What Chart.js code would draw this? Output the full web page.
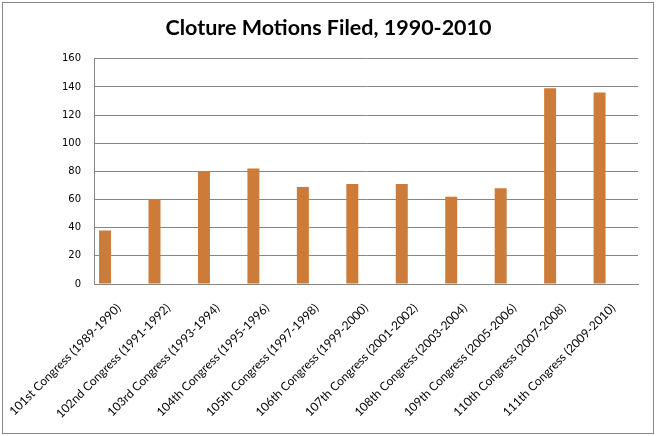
<!DOCTYPE html>
<html>
<head>
<meta charset="utf-8">
<script src="https://cdn.jsdelivr.net/npm/chart.js@4"></script>
<style>
  html, body { margin: 0; padding: 0; background: #fff; }
  #wrap { position: relative; width: 657px; height: 436px; }
</style>
</head>
<body>
<div id="wrap"><canvas id="chart" width="657" height="436"></canvas></div>
<script>
var congresses = [
    '101st Congress (1989-1990)', '102nd Congress (1991-1992)', '103rd Congress (1993-1994)',
    '104th Congress (1995-1996)', '105th Congress (1997-1998)', '106th Congress (1999-2000)',
    '107th Congress (2001-2002)', '108th Congress (2003-2004)', '109th Congress (2005-2006)',
    '110th Congress (2007-2008)', '111th Congress (2009-2010)'
];
var motions = [38, 60, 80, 82, 69, 71, 71, 62, 68, 139, 136];
var yTicks = [0, 20, 40, 60, 80, 100, 120, 140, 160];
var emptySeries = congresses.map(function () { return null; });

// outer frame like the spreadsheet chart box
var framePlugin = {
    id: 'frame',
    beforeDraw: function (chart) {
        var ctx = chart.ctx;
        ctx.save();
        ctx.fillStyle = '#fff';
        ctx.fillRect(0, 0, chart.width, chart.height);
        ctx.strokeStyle = '#868686';
        ctx.lineWidth = 1;
        ctx.strokeRect(2.5, 2.5, 651, 431);
        ctx.restore();
    }
};

var ctx = document.getElementById('chart').getContext('2d');
var chart = new Chart(ctx, {
    type: 'bar',
    data: {
        labels: congresses,
        datasets: [
            { label: 'Cloture Motions', data: motions, backgroundColor: '#CD7B38' },
            // empty series so the bars sit left of the category centre, as in the original sheet
            { label: '', data: emptySeries, backgroundColor: 'rgba(0,0,0,0)' },
            { label: '', data: emptySeries, backgroundColor: 'rgba(0,0,0,0)' }
        ]
    },
    options: {
        responsive: false,
        animation: false,
        datasets: { bar: { categoryPercentage: 0.83, barPercentage: 0.876, borderWidth: 0 } },
        layout: { padding: { left: 0, right: 0, top: 0, bottom: 10 } },
        plugins: {
            legend: { display: false },
            tooltip: { enabled: false },
            title: {
                display: true,
                text: 'Cloture Motions Filed, 1990-2010',
                color: '#000',
                font: { family: 'Lato', size: 21.5, weight: 'bold' },
                padding: { top: 15, bottom: 18 }
            }
        },
        scales: {
            x: {
                grid: { display: false, drawTicks: false },
                border: { color: '#868686', width: 1 },
                ticks: {
                    color: '#000',
                    font: { family: 'Lato', size: 12 },
                    minRotation: 45,
                    maxRotation: 45,
                    autoSkip: false,
                    padding: 17
                },
                afterFit: function (scale) {
                    scale.height = 142;
                    scale.paddingLeft = 0;
                    scale.paddingRight = 0;
                }
            },
            y: {
                min: 0,
                max: 160,
                afterBuildTicks: function (scale) {
                    scale.ticks = yTicks.map(function (v) { return { value: v }; });
                },
                grid: { color: '#868686', drawTicks: false },
                border: { color: '#868686', width: 1 },
                ticks: {
                    color: '#000',
                    font: { family: 'DejaVu Sans', size: 10 },
                    padding: 13
                },
                afterFit: function (scale) { scale.width = 94; }
            },
            // blank right-hand strip so the plot stops short of the frame
            yRight: {
                position: 'right',
                display: true,
                grid: { display: false, drawTicks: false },
                border: { display: false },
                ticks: { display: false },
                afterFit: function (scale) { scale.width = 19; }
            }
        }
    },
    plugins: [framePlugin]
});
</script>
</body>
</html>
